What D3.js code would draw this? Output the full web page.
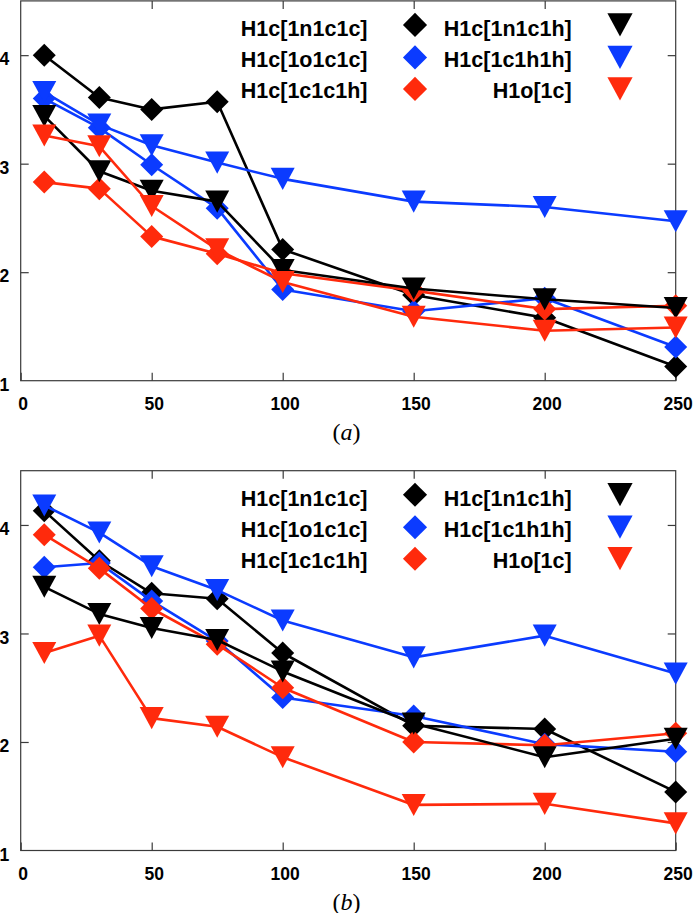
<!DOCTYPE html>
<html>
<head>
<meta charset="utf-8">
<script src="https://cdn.jsdelivr.net/npm/d3@7"></script>
<style>
html,body{margin:0;padding:0;background:#fff;}
svg{display:block;}
</style>
</head>
<body>
<svg id="chart" width="693" height="913"></svg>
<script>
// ---- data ----
const xValues = [9, 30, 50, 75, 100, 150, 200, 250];
const xTicks = [0, 50, 100, 150, 200, 250];
const yTicks = [1, 2, 3, 4];
const seriesNames = ["H1c[1n1c1c]", "H1c[1o1c1c]", "H1c[1c1c1h]", "H1c[1n1c1h]", "H1c[1c1h1h]", "H1o[1c]"];
const seriesColors = ["#000000", "#0b3bff", "#ff2a0c", "#000000", "#0b3bff", "#ff2a0c"];
const seriesMarkers = ["diamond", "diamond", "diamond", "triangle", "triangle", "triangle"];
const panelLabels = ["a", "b"];

// panel (a)
const a_n1c1c = [4.00, 3.61, 3.50, 3.57, 2.21, 1.79, 1.58, 1.13];
const a_o1c1c = [3.60, 3.33, 2.99, 2.59, 1.84, 1.64, 1.76, 1.31];
const a_c1c1h = [2.83, 2.77, 2.33, 2.17, 1.99, 1.83, 1.66, 1.69];
const a_n1c1h = [3.44, 2.93, 2.75, 2.65, 2.02, 1.85, 1.75, 1.67];
const a_c1h1h = [3.66, 3.36, 3.17, 3.01, 2.86, 2.65, 2.60, 2.47];
const a_o1c   = [3.26, 3.16, 2.61, 2.21, 1.91, 1.59, 1.46, 1.49];

// panel (b)
const b_n1c1c = [4.13, 3.67, 3.37, 3.32, 2.82, 2.15, 2.12, 1.54];
const b_o1c1c = [3.61, 3.65, 3.30, 2.93, 2.41, 2.24, 1.98, 1.91];
const b_c1c1h = [3.91, 3.60, 3.23, 2.90, 2.50, 2.00, 1.97, 2.08];
const b_n1c1h = [3.43, 3.18, 3.05, 2.94, 2.65, 2.17, 1.86, 2.03];
const b_c1h1h = [4.18, 3.93, 3.62, 3.40, 3.12, 2.78, 2.98, 2.63];
const b_o1c   = [2.82, 2.98, 2.22, 2.14, 1.86, 1.42, 1.43, 1.25];

const panelSeries = [
  [a_n1c1c, a_o1c1c, a_c1c1h, a_n1c1h, a_c1h1h, a_o1c],
  [b_n1c1c, b_o1c1c, b_c1c1h, b_n1c1h, b_c1h1h, b_o1c]
];

// ---- layout ----
const svg = d3.select("#chart");
const plotLeft = 20.7, plotRight = 675.7;
const panelTops = [0.9, 470.7];
const panelHeight = 379.8;
const axisFont = "'Liberation Sans', Arial, Helvetica, sans-serif";

const symbolDiamond = {
  draw(ctx, size) {
    const r = Math.sqrt(size) / 2;
    ctx.moveTo(0, -r); ctx.lineTo(r, 0); ctx.lineTo(0, r); ctx.lineTo(-r, 0); ctx.closePath();
  }
};
const symbolTriDown = {
  draw(ctx, size) {
    const w = Math.sqrt(size) / 2; // half width
    const h = w * 0.92;
    ctx.moveTo(-w, -h); ctx.lineTo(w, -h); ctx.lineTo(0, h); ctx.closePath();
  }
};
function markerPath(kind, scale) {
  if (kind === "diamond") return d3.symbol().type(symbolDiamond).size(Math.pow(23 * scale, 2))();
  return d3.symbol().type(symbolTriDown).size(Math.pow(24 * scale, 2))();
}

panelSeries.forEach((seriesList, p) => {
  const top = panelTops[p];
  const bottom = top + panelHeight;
  const x = d3.scaleLinear().domain([0, 250]).range([plotLeft, plotRight]);
  const y = d3.scaleLinear().domain([1, 4.5]).range([bottom, top]);
  const g = svg.append("g");

  // frame
  g.append("rect")
    .attr("x", plotLeft).attr("y", top)
    .attr("width", plotRight - plotLeft).attr("height", bottom - top)
    .attr("fill", "none").attr("stroke", "#3a3a3a").attr("stroke-width", 1.2);

  // bottom axis
  const ax = g.append("g").attr("transform", `translate(0,${bottom})`)
    .call(d3.axisBottom(x).tickValues(xTicks).tickFormat(d3.format("d"))
      .tickSizeInner(-8).tickSizeOuter(0).tickPadding(17));
  ax.select(".domain").remove();
  ax.selectAll(".tick line").attr("stroke", "#3a3a3a").attr("stroke-width", 1.2);
  ax.selectAll(".tick text").attr("font-family", axisFont).attr("font-weight", "bold")
    .attr("font-size", 17.5).attr("fill", "#000").attr("dx", 2);

  // top axis (ticks only)
  const axT = g.append("g").attr("transform", `translate(0,${top})`)
    .call(d3.axisTop(x).tickValues(xTicks.filter(v => v > 0 && v < 250)).tickSizeInner(-8).tickSizeOuter(0).tickFormat(""));
  axT.select(".domain").remove();
  axT.selectAll(".tick line").attr("stroke", "#3a3a3a").attr("stroke-width", 1.2);

  // left axis
  const ay = g.append("g").attr("transform", `translate(${plotLeft},0)`)
    .call(d3.axisLeft(y).tickValues(yTicks).tickFormat(d3.format("d"))
      .tickSizeInner(-8).tickSizeOuter(0).tickPadding(11.5));
  ay.select(".domain").remove();
  ay.selectAll(".tick line").attr("stroke", "#3a3a3a").attr("stroke-width", 1.2)
    .filter(d => d === 1).remove();
  ay.selectAll(".tick text").attr("font-family", axisFont).attr("font-weight", "bold")
    .attr("font-size", 17.5).attr("fill", "#000").attr("dy", "0.56em");

  // right axis (ticks only)
  const ayR = g.append("g").attr("transform", `translate(${plotRight},0)`)
    .call(d3.axisRight(y).tickValues(yTicks.filter(v => v > 1)).tickSizeInner(-8).tickSizeOuter(0).tickFormat(""));
  ayR.select(".domain").remove();
  ayR.selectAll(".tick line").attr("stroke", "#3a3a3a").attr("stroke-width", 1.2);

  // series
  const line = d3.line().x((d, i) => x(xValues[i])).y(d => y(d));
  seriesList.forEach((vals, s) => {
    const sg = g.append("g");
    sg.append("path").datum(vals).attr("d", line)
      .attr("fill", "none").attr("stroke", seriesColors[s]).attr("stroke-width", 2.6)
      .attr("stroke-linejoin", "round");
    sg.selectAll("path.m").data(vals).join("path").attr("class", "m")
      .attr("transform", (d, i) => `translate(${x(xValues[i])},${y(d)})`)
      .attr("d", markerPath(seriesMarkers[s], 1))
      .attr("fill", seriesColors[s]);
  });

  // legend
  const leg = g.append("g").attr("transform", `translate(0,${top})`);
  const colText = [367.5, 571.7];
  const colMark = [415, 620];
  const rowMark = [24, 56.5, 88];
  const rowText = [35.5, 66.5, 97.5];
  seriesNames.forEach((name, s) => {
    const c = s < 3 ? 0 : 1, r = s % 3;
    leg.append("text").attr("x", colText[c]).attr("y", rowText[r])
      .attr("text-anchor", "end").attr("font-family", axisFont).attr("font-weight", "bold")
      .attr("font-size", 21.5).attr("fill", "#000").text(name);
    leg.append("path").attr("transform", `translate(${colMark[c]},${rowMark[r]})`)
      .attr("d", markerPath(seriesMarkers[s], 1.05)).attr("fill", seriesColors[s]);
  });

  // caption
  const cap = g.append("text").attr("x", 346.5).attr("y", bottom + 59)
    .attr("text-anchor", "middle").attr("font-family", "'Liberation Serif', 'Times New Roman', serif")
    .attr("font-size", 24).attr("fill", "#000");
  cap.append("tspan").text("(");
  cap.append("tspan").attr("font-style", "italic").text(panelLabels[p]);
  cap.append("tspan").text(")");
});
</script>
</body>
</html>
